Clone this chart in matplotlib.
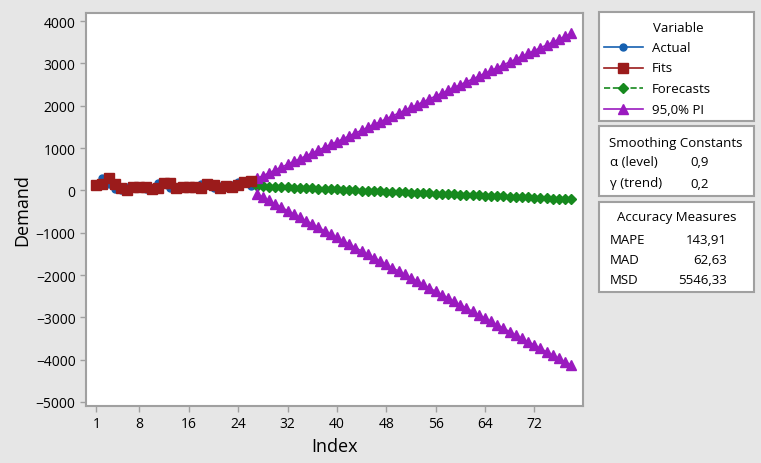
import numpy as np
import matplotlib
matplotlib.use("Agg")
import matplotlib.pyplot as plt
from matplotlib.lines import Line2D
from matplotlib.patches import Rectangle

plt.rcParams["font.family"] = ["Open Sans", "DejaVu Sans"]

# data
actual = [150, 300, 140, 40, 20, 90, 70, 80, 30, 60, 170, 180, 50,
          90, 70, 80, 60, 150, 130, 50, 100, 80, 120, 200, 210, 100]
fits = [120, 160, 300, 160, 50, 20, 90, 80, 80, 30, 60, 170, 180,
        60, 90, 70, 80, 60, 150, 130, 50, 100, 80, 120, 200, 220]
forecasts = [100, 94, 88, 82, 76, 70, 63, 57, 51, 45, 39, 33, 27,
             21, 15, 9, 2, -4, -10, -16, -22, -28, -34, -40, -46, -53,
             -59, -65, -71, -77, -83, -89, -95, -101, -107, -114, -120, -126,
             -132, -138, -144, -150, -156, -162, -168, -175, -181, -187, -193,
             -199, -205, -211]
upper = [280, 347, 415, 482, 549, 617, 683, 750, 817, 885, 952, 1019, 1087,
         1154, 1221, 1289, 1355, 1422, 1489, 1557, 1624, 1691, 1759, 1826,
         1893, 1960, 2027, 2094, 2161, 2229, 2296, 2363, 2431, 2498, 2565,
         2632, 2699, 2766, 2833, 2901, 2968, 3035, 3103, 3170, 3237, 3304,
         3371, 3438, 3505, 3573, 3640, 3707]
lower = [-80, -159, -239, -318, -397, -477, -557, -636, -715, -795, -874,
         -953, -1033, -1112, -1191, -1271, -1351, -1430, -1509, -1589, -1668,
         -1747, -1827, -1906, -1985, -2066, -2145, -2224, -2303, -2383, -2462,
         -2541, -2621, -2700, -2779, -2860, -2939, -3018, -3097, -3177, -3256,
         -3335, -3415, -3494, -3573, -3654, -3733, -3812, -3891, -3971, -4050,
         -4129]
xticks = [1, 8, 16, 24, 32, 40, 48, 56, 64, 72]
yticks = [4000, 3000, 2000, 1000, 0, -1000, -2000, -3000, -4000, -5000]

c_act = "#1560b0"
c_fit = "#9b1b1b"
c_fc = "#16891e"
c_pi = "#9a1abf"
bg = "#e6e6e6"
edge = "#a0a0a0"

idx_a = np.arange(1, len(actual) + 1)
idx_f = np.arange(len(actual) + 1, len(actual) + 1 + len(forecasts))

fig = plt.figure(figsize=(7.61, 4.64), dpi=100, facecolor=bg)
ax = fig.add_axes([86 / 761, 1 - 407 / 464, 497 / 761, 393 / 464])
ax.set_facecolor("white")

ax.plot(idx_a, actual, color=c_act, lw=1, marker="o", ms=5, zorder=3)
ax.plot(idx_a, fits, color=c_fit, lw=1, marker="s", ms=6.5, zorder=4)
ax.plot(idx_f, forecasts, color=c_fc, lw=1, ls="--", marker="D", ms=5.5, zorder=3)
ax.plot(idx_f, upper, color=c_pi, lw=1, marker="^", ms=7.5, zorder=3)
ax.plot(idx_f, lower, color=c_pi, lw=1, marker="^", ms=7.5, zorder=3)

ax.set_xlim(-0.67, 79.9)
ax.set_ylim(-5095, 4190)
ax.set_xticks(xticks)
ax.set_yticks(yticks)
ax.tick_params(colors=edge, labelcolor="black", labelsize=10, length=4, width=1)
for s in ax.spines.values():
    s.set_color(edge)
    s.set_linewidth(1.5)
ax.set_xlabel("Index", fontsize=13, labelpad=4)
ax.set_ylabel("Demand", fontsize=13, labelpad=3)

# side panels
def box(y0, y1):
    fig.patches.append(Rectangle((599 / 761, 1 - y1 / 464), 155 / 761, (y1 - y0) / 464,
                                 transform=fig.transFigure, facecolor="white",
                                 edgecolor=edge, lw=1.5))

def fx(px):
    return px / 761

def fy(py):
    return 1 - py / 464

box(13, 122)
box(127, 197)
box(203, 293)

fs = 9.5
fig.text(fx(678), fy(29), "Variable", ha="center", va="center", fontsize=fs)
entries = [("Actual", c_act, "-", "o", 5), ("Fits", c_fit, "-", "s", 6.5),
           ("Forecasts", c_fc, "--", "D", 5.5), ("95,0% PI", c_pi, "-", "^", 7)]
for i, (lab, col, ls, mk, ms) in enumerate(entries):
    yy = fy(48 + i * 20.7)
    fig.add_artist(Line2D([fx(604), fx(643)], [yy, yy], color=col, ls=ls, lw=1.2,
                          transform=fig.transFigure))
    fig.add_artist(Line2D([fx(623)], [yy], color=col, marker=mk, ms=ms,
                          transform=fig.transFigure))
    fig.text(fx(652), yy, lab, ha="left", va="center", fontsize=fs)

fig.text(fx(676), fy(144), "Smoothing Constants", ha="center", va="center", fontsize=fs)
fig.text(fx(610), fy(163), "\u03b1 (level)", ha="left", va="center", fontsize=fs)
fig.text(fx(690), fy(163), "0,9", ha="left", va="center", fontsize=fs)
fig.text(fx(610), fy(184), "\u03b3 (trend)", ha="left", va="center", fontsize=fs)
fig.text(fx(690), fy(184), "0,2", ha="left", va="center", fontsize=fs)

fig.text(fx(677), fy(218), "Accuracy Measures", ha="center", va="center", fontsize=fs)
for i, (k, v) in enumerate([("MAPE", "143,91"), ("MAD", "62,63"), ("MSD", "5546,33")]):
    yy = fy(240 + i * 20.5)
    fig.text(fx(610), yy, k, ha="left", va="center", fontsize=fs)
    fig.text(fx(727), yy, v, ha="right", va="center", fontsize=fs)

fig.savefig("out.png", dpi=100, facecolor=bg)
